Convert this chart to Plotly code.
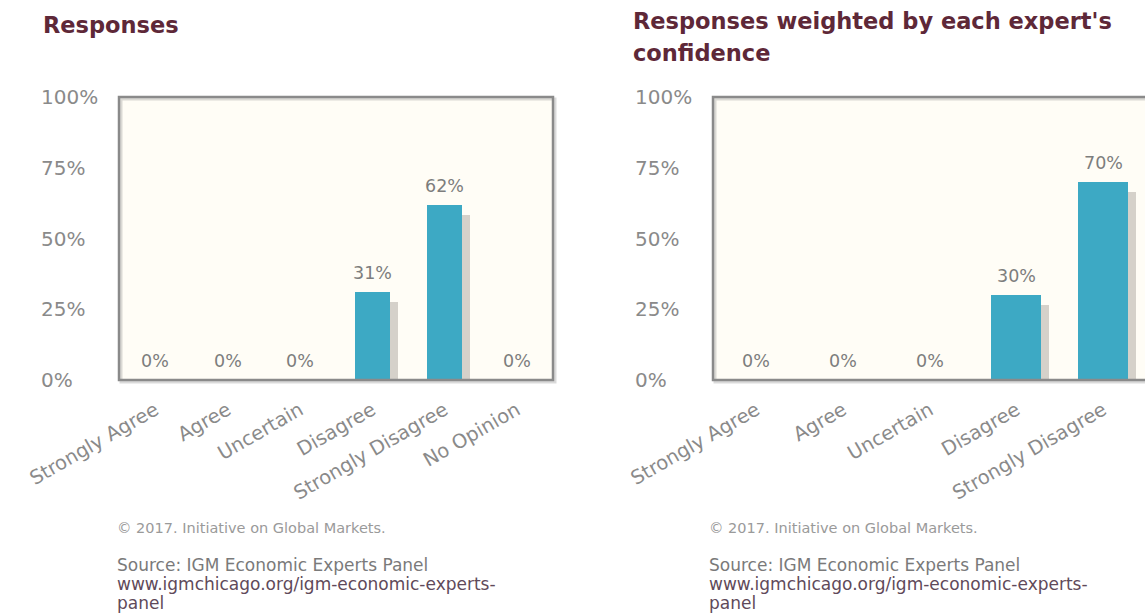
import plotly.graph_objects as go

# ---------------- data ----------------
categories = ["Strongly Agree", "Agree", "Uncertain", "Disagree", "Strongly Disagree", "No Opinion"]
responses = [0, 0, 0, 31, 62, 0]
weighted = [0, 0, 0, 30, 70, 0]
y_ticks = [0, 25, 50, 75, 100]
y_tick_labels = ["0%", "25%", "50%", "75%", "100%"]
title_left = "Responses"
title_right_lines = ["Responses weighted by each expert's", "confidence"]
footer_lines = ["\u00a9 2017. Initiative on Global Markets.",
                "Source: IGM Economic Experts Panel",
                "www.igmchicago.org/igm-economic-experts-",
                "panel"]

# ---------------- layout constants (pixels) ----------------
W, H = 1145, 613
def fx(x):
    return x / W
def fy(y):
    return 1 - y / H

TOP, BOT = 97, 380
L_X0, L_X1 = 119, 553
R_X0, R_X1 = 713, 1145
R_CAT = 86.7
R_RANGE = [-0.5, -0.5 + (R_X1 - R_X0) / R_CAT]
L_CAT = (L_X1 - L_X0) / len(categories)

BAR_COLOR = "#3DA9C4"
SHADOW = "rgba(125,118,110,0.32)"
GRAY = "#8a8a8a"
LABEL_GRAY = "#7d7d7d"
TITLE_COLOR = "#5E2838"
FONT = "DejaVu Sans"
PX_PER_PCT = (BOT - TOP) / 100.0

fig = go.Figure()

def add_chart(vals, xa, ya, bar_w, cat_px):
    shadow_vals = [max(v - 10 / PX_PER_PCT, 0) for v in vals]
    fig.add_trace(go.Bar(x=categories, y=shadow_vals, xaxis=xa, yaxis=ya,
                         width=bar_w, offset=-bar_w / 2 + 8 / cat_px,
                         marker=dict(color=SHADOW, line=dict(width=0)),
                         hoverinfo="skip", showlegend=False))
    fig.add_trace(go.Bar(x=categories, y=vals, xaxis=xa, yaxis=ya,
                         width=bar_w, offset=-bar_w / 2,
                         marker=dict(color=BAR_COLOR, line=dict(width=0)),
                         showlegend=False))
    xref = "x" if xa == "x" else "x2"
    yref = "y" if ya == "y" else "y2"
    for c, v in zip(categories, vals):
        fig.add_annotation(x=c, y=v, xref=xref, yref=yref, text=f"{v}%",
                           showarrow=False, yshift=19, yanchor="middle",
                           font=dict(family=FONT, size=17.5, color=LABEL_GRAY))

add_chart(responses, "x", "y", 35 / L_CAT, L_CAT)
add_chart(weighted, "x2", "y2", 50 / R_CAT, R_CAT)

xcommon = dict(showline=False, showgrid=False, zeroline=False, ticks="",
               tickangle=-30, ticklabelstandoff=14, automargin=False,
               tickfont=dict(family=FONT, size=19.5, color=GRAY),
               categoryorder="array", categoryarray=categories, fixedrange=True)
ycommon = dict(range=[0, 100], tickvals=y_ticks, ticktext=y_tick_labels,
               showline=False, showgrid=False, zeroline=False, ticks="",
               side="right", anchor="free", automargin=False,
               tickfont=dict(family=FONT, size=20, color=GRAY), fixedrange=True)

fig.update_layout(
    width=W, height=H,
    margin=dict(l=0, r=0, t=0, b=0, autoexpand=False),
    paper_bgcolor="white",
    plot_bgcolor="#FFFDF6",
    barmode="overlay",
    bargap=0,
    font=dict(family=FONT),
    xaxis=dict(domain=[fx(L_X0), fx(L_X1)], anchor="y",
               range=[-0.5, len(categories) - 0.5], **xcommon),
    yaxis=dict(domain=[fy(BOT), fy(TOP)], position=fx(40), **ycommon),
    xaxis2=dict(domain=[fx(R_X0), 1.0], anchor="y2", range=R_RANGE, **xcommon),
    yaxis2=dict(domain=[fy(BOT), fy(TOP)], position=fx(634), **ycommon),
)

# frames
def frame(x0, x1, shadow=True):
    if shadow:
        fig.add_shape(type="rect", xref="paper", yref="paper",
                      x0=fx(x0 + 2), x1=fx(x1 + 2), y0=fy(BOT + 2), y1=fy(TOP + 2),
                      line=dict(color="rgba(150,150,150,0.35)", width=3), layer="below")
    fig.add_shape(type="rect", xref="paper", yref="paper",
                  x0=fx(x0), x1=fx(x1), y0=fy(BOT), y1=fy(TOP),
                  line=dict(color=GRAY, width=2.5), layer="above")

frame(L_X0, L_X1)
frame(R_X0, R_X1 + 40)

# titles
fig.add_annotation(text=f"<b>{title_left}</b>", xref="paper", yref="paper",
                   x=fx(41), y=fy(25), xanchor="left", yanchor="middle", showarrow=False,
                   font=dict(family=FONT, size=22.5, color=TITLE_COLOR))
for i, line in enumerate(title_right_lines):
    fig.add_annotation(text=f"<b>{line}</b>", xref="paper", yref="paper",
                       x=fx(631), y=fy(21 + 32 * i), xanchor="left", yanchor="middle",
                       showarrow=False,
                       font=dict(family=FONT, size=22.5, color=TITLE_COLOR))

# footers
foot_y = [528, 565, 584, 603]
foot_size = [14.5, 17, 17, 17]
foot_color = ["#9a9a9a", "#7a7a7a", "#5f4a5a", "#5f4a5a"]
for fxpos in (115, 707):
    for t, yy, s, col in zip(footer_lines, foot_y, foot_size, foot_color):
        fig.add_annotation(text=t, xref="paper", yref="paper",
                           x=fx(fxpos), y=fy(yy), xanchor="left", yanchor="middle",
                           showarrow=False, font=dict(family=FONT, size=s, color=col))

fig.write_html("out.html")
